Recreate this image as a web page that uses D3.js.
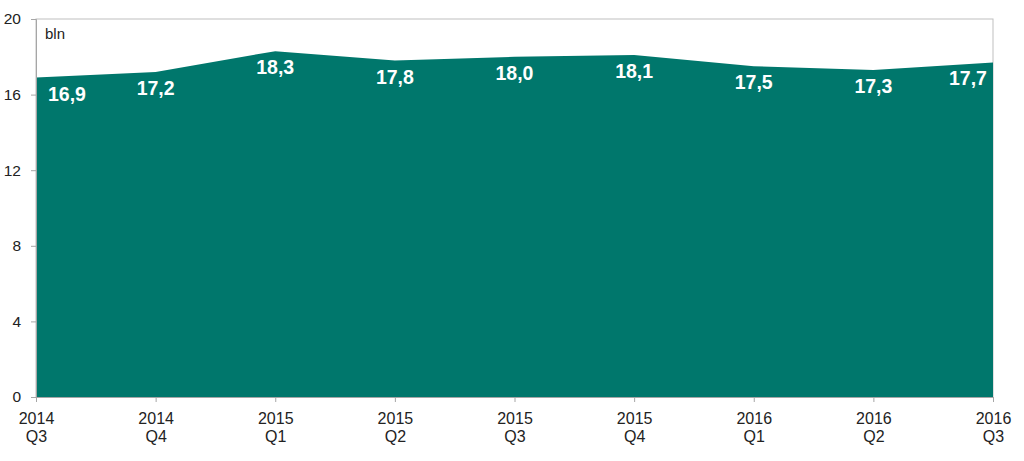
<!DOCTYPE html>
<html><head><meta charset="utf-8">
<script src="https://cdn.jsdelivr.net/npm/d3@7"></script>
<style>body{margin:0;background:#fff}svg{display:block}text{font-family:"Liberation Sans",Arial,sans-serif}</style>
</head><body>
<svg id="c" width="1024" height="461"></svg>
<script>
const categories = ["2014 Q3","2014 Q4","2015 Q1","2015 Q2","2015 Q3","2015 Q4","2016 Q1","2016 Q2","2016 Q3"];
const values = [16.9,17.2,18.3,17.8,18.0,18.1,17.5,17.3,17.7];
const yTicks = [0,4,8,12,16,20];
const unitLabel = "bln";

const svg = d3.select("#c");
const L=36,R=993,T=19,B=397;
const x = d3.scalePoint().domain(categories).range([L,R]);
const y = d3.scaleLinear().domain([0,20]).range([B,T]);

svg.append("rect").attr("x",L).attr("y",T).attr("width",R-L).attr("height",B-T)
  .attr("fill","none").attr("stroke","#bfbfbf").attr("stroke-width",1);

const area = d3.area().x((d,i)=>x(categories[i])).y0(B).y1(d=>y(d));
svg.append("path").datum(values).attr("d",area).attr("fill","#00776C");

// y axis
const ya = svg.append("g").attr("transform",`translate(${L},0)`)
  .call(d3.axisLeft(y).tickValues(yTicks).tickSize(5).tickPadding(10).tickFormat(d3.format("d")));
ya.attr("font-size",null).attr("font-family",null);
ya.select(".domain").attr("stroke","#a6a6a6");
ya.selectAll(".tick line").attr("stroke","#a6a6a6");
ya.selectAll(".tick text").style("font-size","15.5px").attr("fill","#222");

// x axis
const xa = svg.append("g").attr("transform",`translate(0,${B})`)
  .call(d3.axisBottom(x).tickSize(5).tickFormat(""));
xa.attr("font-size",null).attr("font-family",null);
xa.select(".domain").attr("stroke","#a6a6a6");
xa.selectAll(".tick line").attr("stroke","#a6a6a6");
xa.selectAll(".tick").each(function(d){
  const parts = d.split(" ");
  const t = d3.select(this).append("text").attr("fill","#222").style("font-size","16px")
    .attr("text-anchor","middle");
  t.append("tspan").attr("x",0).attr("y",27).text(parts[0]);
  t.append("tspan").attr("x",0).attr("y",45).text(parts[1]);
});

// labels
svg.append("g").selectAll("text").data(values).join("text")
  .attr("x",(d,i)=>{const px=x(categories[i]); return i===0?px+31:(i===values.length-1?px-25:px);})
  .attr("y",d=>y(d)+23)
  .attr("text-anchor","middle").attr("fill","#fff").attr("font-weight","bold").style("font-size","19.5px")
  .text(d=>d3.format(".1f")(d).replace(".",","));

svg.append("text").attr("x",45).attr("y",39).style("font-size","15px").attr("fill","#222").text(unitLabel);
</script>
</body></html>
